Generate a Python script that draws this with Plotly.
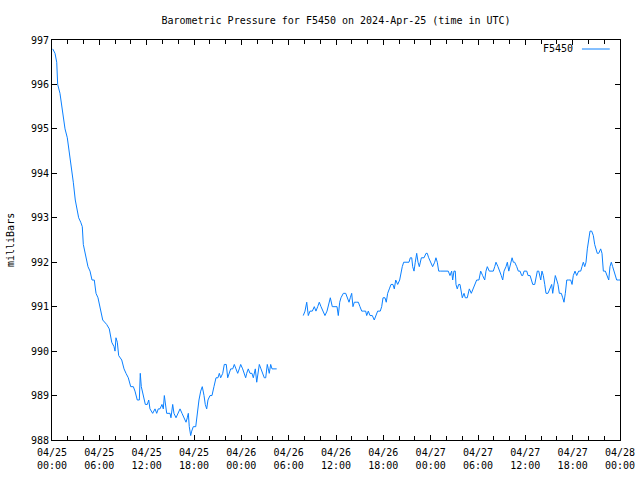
import pandas as pd
import plotly.graph_objects as go

# hours since 2024-04-25 00:00 UTC and pressure (mbar), first run
hours_a = [0.09, 0.38, 0.60, 0.72, 1.01, 1.31, 1.65, 1.94, 2.19, 2.45, 2.70, 2.95, 3.21, 3.38, 3.64, 3.84,
           3.97, 4.31, 4.56, 4.82, 5.07, 5.36, 5.58, 5.83, 6.08, 6.43, 6.93, 7.26, 7.57, 7.86, 7.99, 8.11,
           8.28, 8.45, 8.84, 9.13, 9.38, 9.67, 9.98, 10.31, 10.52, 10.81, 11.07, 11.19, 11.32, 11.57, 11.83,
           12.08, 12.26, 12.42, 12.76, 13.06, 13.27, 13.47, 13.69, 13.94, 14.11, 14.24, 14.36, 14.54, 14.96,
           15.08, 15.30, 15.46, 15.72, 15.97, 16.23, 16.48, 16.73, 16.99, 17.15, 17.28, 17.40, 17.58, 17.71,
           17.91, 18.22, 18.42, 18.63, 18.85, 19.05, 19.27, 19.43, 19.61, 19.77, 20.03, 20.28, 20.53, 20.79,
           21.04, 21.21, 21.38, 21.64, 21.84, 22.09, 22.27, 22.44, 22.65, 22.91, 23.11, 23.32, 23.54, 23.74,
           23.92, 24.17, 24.38, 24.55, 24.68, 24.88, 25.10, 25.35, 25.52, 25.77, 25.95, 26.11, 26.28, 26.49,
           26.71, 26.91, 27.09, 27.29, 27.42, 27.54, 27.72, 27.89, 28.14, 28.48]
press_a = [996.8, 996.7, 996.5, 996.0, 995.8, 995.4, 995.0, 994.8, 994.5, 994.1, 993.8, 993.4, 993.2, 993.0,
           992.9, 992.8, 992.4, 992.1, 991.9, 991.8, 991.6, 991.6, 991.3, 991.2, 991.0, 990.7, 990.6, 990.5,
           990.2, 990.1, 990.0, 990.3, 990.2, 989.9, 989.8, 989.6, 989.5, 989.4, 989.2, 989.2, 989.1, 988.9,
           988.9, 989.5, 989.2, 989.0, 988.8, 988.8, 988.9, 988.7, 988.6, 988.7, 988.6, 988.7, 988.7, 988.8,
           988.7, 989.0, 988.8, 988.6, 988.6, 988.5, 988.8, 988.6, 988.5, 988.6, 988.7, 988.6, 988.5, 988.4,
           988.5, 988.6, 988.3, 988.1, 988.2, 988.3, 988.3, 988.6, 988.9, 989.1, 989.2, 989.0, 988.8, 988.7,
           988.9, 989.0, 989.0, 989.2, 989.4, 989.4, 989.5, 989.4, 989.5, 989.7, 989.7, 989.4, 989.5, 989.6,
           989.6, 989.7, 989.6, 989.5, 989.6, 989.7, 989.6, 989.5, 989.4, 989.5, 989.6, 989.5, 989.5, 989.4,
           989.6, 989.3, 989.5, 989.7, 989.6, 989.5, 989.4, 989.4, 989.7, 989.6, 989.5, 989.7, 989.6, 989.6,
           989.6]

# second run (after the data gap)
hours_b = [31.85, 32.07, 32.29, 32.49, 32.70, 33.00, 33.25, 33.46, 33.68, 33.88, 34.10, 34.35, 34.60, 34.86,
           35.02, 35.28, 35.53, 35.87, 36.13, 36.29, 36.47, 36.63, 36.93, 37.23, 37.48, 37.65, 37.81, 37.99,
           38.15, 38.32, 38.57, 38.83, 39.04, 39.26, 39.51, 39.76, 39.89, 40.09, 40.31, 40.60, 40.85, 41.11,
           41.28, 41.61, 41.79, 41.96, 42.21, 42.37, 42.55, 42.76, 42.97, 43.22, 43.39, 43.57, 43.82, 44.07,
           44.24, 44.40, 44.58, 44.96, 45.25, 45.42, 45.60, 45.72, 45.89, 46.05, 46.23, 46.40, 46.56, 46.82,
           47.16, 47.41, 47.57, 47.75, 48.00, 48.25, 48.51, 48.67, 48.84, 49.02, 49.27, 49.60, 49.94, 50.23,
           50.45, 50.66, 50.79, 50.95, 51.12, 51.21, 51.37, 51.55, 51.72, 51.85, 52.01, 52.23, 52.39, 52.64,
           52.90, 53.15, 53.40, 53.62, 53.83, 54.12, 54.34, 54.59, 54.85, 55.01, 55.18, 55.43, 55.69, 55.94,
           56.12, 56.28, 56.53, 56.79, 56.95, 57.13, 57.30, 57.55, 57.72, 57.90, 58.06, 58.32, 58.48, 58.65,
           58.91, 59.11, 59.33, 59.54, 59.67, 59.84, 60.18, 60.34, 60.60, 60.81, 60.94, 61.19, 61.36, 61.52,
           61.70, 61.86, 61.95, 62.11, 62.28, 62.46, 62.62, 62.87, 63.13, 63.34, 63.47, 63.63, 63.80, 63.98,
           64.14, 64.31, 64.56, 64.74, 64.90, 65.07, 65.25, 65.50, 65.75, 65.92, 66.08, 66.30, 66.51, 66.76,
           67.02, 67.18, 67.35, 67.53, 67.69, 67.86, 68.03, 68.20, 68.41, 68.62, 68.79, 68.96, 69.12, 69.30,
           69.55, 69.72, 69.89, 70.14, 70.39, 70.57, 70.73, 70.90, 71.07, 71.24, 71.41, 71.58, 71.83, 72.00]
press_b = [990.8, 990.9, 991.1, 990.8, 990.9, 990.9, 991.0, 990.9, 991.0, 991.1, 991.0, 990.9, 990.8, 990.9,
           991.0, 991.2, 991.0, 991.0, 991.0, 990.8, 991.1, 991.2, 991.3, 991.3, 991.2, 991.1, 991.2, 991.3,
           991.0, 991.1, 991.1, 991.1, 991.0, 990.9, 990.9, 990.9, 990.8, 990.9, 990.8, 990.8, 990.7, 990.8,
           990.9, 990.9, 991.0, 991.2, 991.2, 991.1, 991.3, 991.4, 991.5, 991.5, 991.4, 991.6, 991.5, 991.6,
           991.8, 991.9, 992.0, 992.0, 992.0, 992.1, 992.1, 991.9, 991.8, 992.0, 992.2, 992.0, 991.9, 992.1,
           992.1, 992.2, 992.2, 992.1, 992.0, 991.9, 992.0, 992.1, 992.0, 991.8, 991.8, 991.8, 991.8, 991.8,
           991.7, 991.8, 991.6, 991.8, 991.8, 991.5, 991.4, 991.5, 991.5, 991.3, 991.2, 991.3, 991.2, 991.2,
           991.4, 991.3, 991.4, 991.5, 991.6, 991.6, 991.8, 991.7, 991.6, 991.8, 991.9, 991.8, 991.8, 991.8,
           991.9, 992.0, 991.9, 991.8, 991.7, 991.6, 991.8, 991.9, 992.0, 991.8, 991.9, 992.1, 992.0, 992.0,
           991.9, 991.8, 991.8, 991.7, 991.7, 991.8, 991.8, 991.7, 991.7, 991.6, 991.5, 991.5, 991.7, 991.8,
           991.8, 991.7, 991.6, 991.8, 991.7, 991.5, 991.3, 991.3, 991.4, 991.5, 991.3, 991.5, 991.7, 991.6,
           991.5, 991.3, 991.3, 991.2, 991.1, 991.3, 991.6, 991.6, 991.6, 991.5, 991.7, 991.8, 991.7, 991.8,
           991.8, 991.9, 992.0, 991.9, 992.0, 992.3, 992.5, 992.7, 992.7, 992.6, 992.4, 992.3, 992.2, 992.2,
           992.3, 992.2, 991.8, 991.8, 991.7, 991.6, 991.9, 992.0, 991.9, 991.8, 991.7, 991.6, 991.6, 991.6]

tick_dates = ["2024-04-25 00:00", "2024-04-25 06:00", "2024-04-25 12:00", "2024-04-25 18:00",
              "2024-04-26 00:00", "2024-04-26 06:00", "2024-04-26 12:00", "2024-04-26 18:00",
              "2024-04-27 00:00", "2024-04-27 06:00", "2024-04-27 12:00", "2024-04-27 18:00",
              "2024-04-28 00:00"]
tick_labels = ["04/25<br>00:00", "04/25<br>06:00", "04/25<br>12:00", "04/25<br>18:00",
               "04/26<br>00:00", "04/26<br>06:00", "04/26<br>12:00", "04/26<br>18:00",
               "04/27<br>00:00", "04/27<br>06:00", "04/27<br>12:00", "04/27<br>18:00",
               "04/28<br>00:00"]
y_ticks = [988, 989, 990, 991, 992, 993, 994, 995, 996, 997]

start = pd.Timestamp("2024-04-25 00:00")
xa = [start + pd.Timedelta(hours=h) for h in hours_a]
xb = [start + pd.Timedelta(hours=h) for h in hours_b]
x = xa + [None] + xb
y = press_a + [None] + press_b

FONT = "DejaVu Sans Mono"
COLOR = "#0a80ff"

fig = go.Figure()
fig.add_trace(go.Scatter(x=x, y=y, mode="lines", name="F5450",
                         line=dict(color=COLOR, width=1), connectgaps=False,
                         showlegend=False))

fig.update_layout(
    width=640, height=480,
    margin=dict(l=52, r=20, t=40, b=40),
    paper_bgcolor="white", plot_bgcolor="white",
    font=dict(family=FONT, size=10, color="black"),
    title=dict(text="Barometric Pressure for F5450 on 2024-Apr-25 (time in UTC)",
               xref="paper", x=0.5, xanchor="center", y=0.958, yanchor="middle",
               font=dict(family=FONT, size=10, color="black")),
)
fig.update_xaxes(
    type="date",
    range=[tick_dates[0], tick_dates[-1]],
    tickvals=tick_dates, ticktext=tick_labels,
    showgrid=False, zeroline=False, automargin=False,
    showline=True, linecolor="black", linewidth=1, mirror="ticks",
    ticks="inside", ticklen=5, tickcolor="black", ticklabelstandoff=3,
    minor=dict(dtick=2 * 3600 * 1000, ticks="inside", ticklen=4, tickcolor="black", showgrid=False),
    tickfont=dict(family=FONT, size=10, color="black"),
)
fig.update_yaxes(
    range=[988, 997],
    tickvals=y_ticks,
    showgrid=False, zeroline=False, automargin=False,
    showline=True, linecolor="black", linewidth=1, mirror="ticks",
    ticks="inside", ticklen=5, tickcolor="black",
    tickfont=dict(family=FONT, size=10, color="black"),
)

# y-axis label
fig.add_annotation(text="milliBars", xref="paper", yref="paper", x=0, y=0.5, xshift=-42,
                   textangle=-90, xanchor="center", yanchor="middle", showarrow=False,
                   font=dict(family=FONT, size=10, color="black"))

# legend key in gnuplot style: label then line sample, top right inside the frame
fig.add_annotation(text="F5450", xref="paper", yref="paper", x=0.921, y=0.9775,
                   xanchor="right", yanchor="middle", showarrow=False,
                   font=dict(family=FONT, size=10, color="black"))
fig.add_shape(type="line", xref="paper", yref="paper", x0=0.933, x1=0.982, y0=0.9775, y1=0.9775,
              line=dict(color=COLOR, width=1))

fig.write_html("out.html")
